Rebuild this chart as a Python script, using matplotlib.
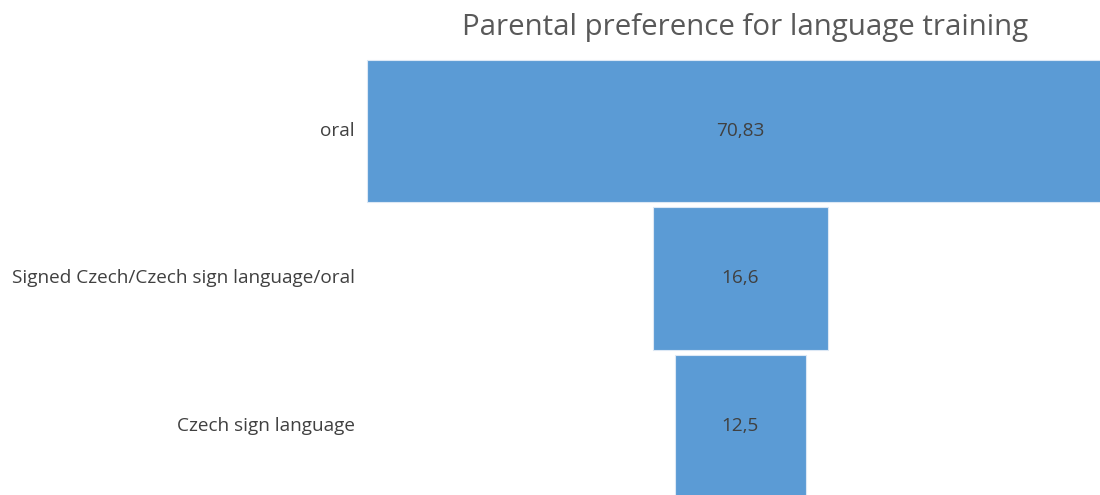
import matplotlib.pyplot as plt

categories = ["oral", "Signed Czech/Czech sign language/oral", "Czech sign language"]
values = [70.83, 16.6, 12.5]
value_labels = ["70,83", "16,6", "12,5"]
title = "Parental preference for language training"

plt.rcParams['font.family'] = ['Open Sans', 'DejaVu Sans']

W, H = 1100, 495
fig = plt.figure(figsize=(W / 100, H / 100), dpi=100)
ax = fig.add_axes([0, 0, 1, 1])

px_per_unit = 10.55
center_px = 740.5
row_px = 147.5
first_row_px = 131

ax.set_xlim(-center_px / px_per_unit, (W - center_px) / px_per_unit)
ax.set_ylim((H - first_row_px) / row_px, -first_row_px / row_px)
ax.axis('off')

bar_color = "#5B9BD5"
ys = list(range(len(values)))
ax.barh(ys, values, left=[-v / 2 for v in values], height=0.963,
        color=bar_color, edgecolor="#DCE8F5", linewidth=0.8)

text_color = "#404040"
for y, v, lab in zip(ys, values, value_labels):
    ax.text(0, y, lab, ha='center', va='center', fontsize=11.5, color=text_color)

label_x = ax.transData.inverted().transform((355, 0))[0]
cat_texts = [ax.text(label_x, y, cat, ha='right', va='center', fontsize=11.5, color=text_color)
             for y, cat in zip(ys, categories)]

title_text = fig.text(745 / W, 1 - 27 / H, title, ha='center', va='center',
                      fontsize=19, color="#595959")

# scale the label and title fonts to their intended widths in pixels
renderer = fig.canvas.get_renderer()
longest = max(cat_texts, key=lambda t: len(t.get_text()))
scale = 345 / longest.get_window_extent(renderer).width
for t in ax.texts:
    t.set_fontsize(t.get_fontsize() * scale)
title_text.set_fontsize(19 * 566 / title_text.get_window_extent(renderer).width)

fig.savefig("out.png", dpi=100, facecolor="white")
